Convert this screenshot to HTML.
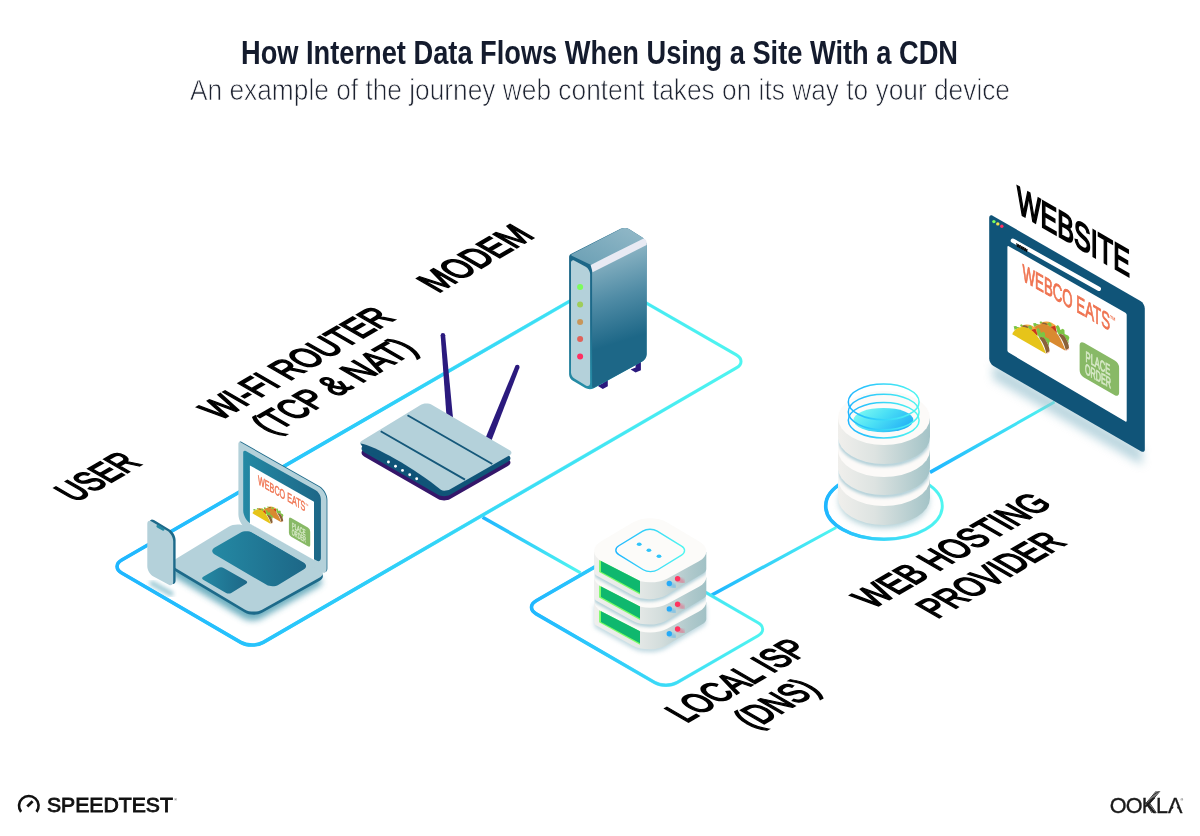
<!DOCTYPE html>
<html lang="en">
<head>
<meta charset="utf-8">
<title>How Internet Data Flows When Using a Site With a CDN</title>
<style>
html,body{margin:0;padding:0;background:#fff;}
body{width:1200px;height:836px;overflow:hidden;font-family:"Liberation Sans",sans-serif;}
svg{display:block;}
text{font-family:"Liberation Sans",sans-serif;}
</style>
</head>
<body>
<svg width="1200" height="836" viewBox="0 0 1200 836">
<g opacity="0.999">
<defs>
<linearGradient id="gMain" gradientUnits="userSpaceOnUse" x1="110" y1="0" x2="750" y2="0"><stop offset="0" stop-color="#1fb6ff"/><stop offset="0.45" stop-color="#2fd0f8"/><stop offset="1" stop-color="#50f6f0"/></linearGradient>
<linearGradient id="gBranch" gradientUnits="userSpaceOnUse" x1="482" y1="517" x2="581" y2="573"><stop offset="0" stop-color="#1fb6ff"/><stop offset="1" stop-color="#50f6f0"/></linearGradient>
<linearGradient id="gIsp" gradientUnits="userSpaceOnUse" x1="525" y1="0" x2="770" y2="0"><stop offset="0" stop-color="#1fb6ff"/><stop offset="1" stop-color="#50f6f0"/></linearGradient>
<linearGradient id="gL2" gradientUnits="userSpaceOnUse" x1="712" y1="595" x2="836" y2="527"><stop offset="0" stop-color="#1fb6ff"/><stop offset="1" stop-color="#50f6f0"/></linearGradient>
<linearGradient id="gRing" gradientUnits="userSpaceOnUse" x1="825" y1="0" x2="943" y2="0"><stop offset="0" stop-color="#1fb6ff"/><stop offset="1" stop-color="#50f6f0"/></linearGradient>
<linearGradient id="gL3" gradientUnits="userSpaceOnUse" x1="930" y1="472" x2="1055" y2="402"><stop offset="0" stop-color="#1fb6ff"/><stop offset="1" stop-color="#50f6f0"/></linearGradient>
<linearGradient id="gTeal" x1="0" y1="0" x2="1" y2="0"><stop offset="0" stop-color="#2489a4"/><stop offset="1" stop-color="#1d6787"/></linearGradient>
<linearGradient id="gModSide" gradientUnits="userSpaceOnUse" x1="619" y1="252" x2="645" y2="334"><stop offset="0" stop-color="#8ab3c3"/><stop offset="0.5" stop-color="#4f8ba5"/><stop offset="1" stop-color="#1d6787"/></linearGradient>
<linearGradient id="gModTop" x1="0" y1="1" x2="1" y2="0"><stop offset="0" stop-color="#6a9fb4"/><stop offset="1" stop-color="#93b9c8"/></linearGradient>
<linearGradient id="gModFront" x1="0" y1="0" x2="0" y2="1"><stop offset="0" stop-color="#1b6586"/><stop offset="0.6" stop-color="#1d6a8a"/><stop offset="1" stop-color="#268fa8"/></linearGradient>
<linearGradient id="gSrv" gradientUnits="userSpaceOnUse" x1="594" y1="0" x2="706" y2="0"><stop offset="0" stop-color="#f0efed"/><stop offset="0.4" stop-color="#e4e8e6"/><stop offset="0.6" stop-color="#d3dddc"/><stop offset="0.85" stop-color="#b0c9cc"/><stop offset="1" stop-color="#a1c1c5"/></linearGradient>
<linearGradient id="gCyl" gradientUnits="userSpaceOnUse" x1="838" y1="0" x2="930" y2="0"><stop offset="0" stop-color="#f0efec"/><stop offset="0.4" stop-color="#dde3e1"/><stop offset="1" stop-color="#a3c3c7"/></linearGradient>
<linearGradient id="gPool" x1="0" y1="0.2" x2="1" y2="0.7"><stop offset="0" stop-color="#7ffaf2"/><stop offset="0.45" stop-color="#4adff5"/><stop offset="1" stop-color="#22aef6"/></linearGradient>
<linearGradient id="gRingS" x1="0" y1="0" x2="1" y2="0"><stop offset="0" stop-color="#1fb6ff"/><stop offset="1" stop-color="#50f6f0"/></linearGradient>
<linearGradient id="gFade" gradientUnits="userSpaceOnUse" x1="110" y1="0" x2="750" y2="0"><stop offset="0" stop-color="#fff"/><stop offset="0.4" stop-color="#fff"/><stop offset="1" stop-color="#000"/></linearGradient>
<mask id="mFade" maskUnits="userSpaceOnUse" x="0" y="0" width="1200" height="836"><rect x="0" y="0" width="1200" height="836" fill="url(#gFade)"/></mask>
<linearGradient id="gFadeI" gradientUnits="userSpaceOnUse" x1="525" y1="0" x2="770" y2="0"><stop offset="0" stop-color="#fff"/><stop offset="0.3" stop-color="#fff"/><stop offset="1" stop-color="#000"/></linearGradient>
<mask id="mFadeI" maskUnits="userSpaceOnUse" x="0" y="0" width="1200" height="836"><rect x="0" y="0" width="1200" height="836" fill="url(#gFadeI)"/></mask>
<linearGradient id="gFadeR" gradientUnits="userSpaceOnUse" x1="825" y1="0" x2="943" y2="0"><stop offset="0" stop-color="#fff"/><stop offset="0.3" stop-color="#fff"/><stop offset="1" stop-color="#000"/></linearGradient>
<mask id="mFadeR" maskUnits="userSpaceOnUse" x="0" y="0" width="1200" height="836"><rect x="0" y="0" width="1200" height="836" fill="url(#gFadeR)"/></mask>
<clipPath id="cSrv"><rect x="594.4" y="500" width="111.7" height="160"/></clipPath>
<clipPath id="cCyl"><rect x="838.3" y="380" width="91.4" height="150"/></clipPath>
<filter id="b2" x="-30%" y="-30%" width="160%" height="160%"><feGaussianBlur stdDeviation="2"/></filter>
<filter id="b3" x="-30%" y="-30%" width="160%" height="160%"><feGaussianBlur stdDeviation="3.2"/></filter>
<filter id="b5" x="-30%" y="-30%" width="160%" height="160%"><feGaussianBlur stdDeviation="5"/></filter>
<filter id="b15" x="-30%" y="-30%" width="160%" height="160%"><feGaussianBlur stdDeviation="1.6"/></filter>
<filter id="b1" x="-30%" y="-30%" width="160%" height="160%"><feGaussianBlur stdDeviation="1.2"/></filter>
</defs>
<rect width="1200" height="836" fill="#ffffff"/>
<text x="241" y="64" font-size="32.5" font-weight="bold" fill="#141b2d" textLength="717" lengthAdjust="spacingAndGlyphs">How Internet Data Flows When Using a Site With a CDN</text>
<text x="190" y="99.9" font-size="29.1" fill="#1d2230" stroke="#fff" stroke-width="0.75" textLength="820" lengthAdjust="spacingAndGlyphs">An example of the journey web content takes on its way to your device</text>
<path d="M481.71 518.87L579.86 574.2L581.34 571.6L483.49 515.73Z" fill="url(#gBranch)"/>
<path d="M712.66 596.58L836.87 528.73L835.53 526.27L710.94 593.42Z" fill="url(#gL2)"/>
<path d="M930.89 473.97L1055.19 403.22L1053.81 400.78L929.11 470.83Z" fill="url(#gL3)"/>
<path d="M121.73 573.04C115.53 569.43 115.54 563.59 121.76 560L595.04 286.5C601.26 282.91 611.34 282.91 617.56 286.49L736.34 354.91C742.56 358.49 742.57 364.32 736.36 367.92L263.24 642.38C257.03 645.98 246.97 645.97 240.77 642.36Z" fill="none" stroke="url(#gMain)" stroke-width="3"/>
<path d="M121.73 573.04C115.53 569.43 115.54 563.59 121.76 560L595.04 286.5C601.26 282.91 611.34 282.91 617.56 286.49L736.34 354.91C742.56 358.49 742.57 364.32 736.36 367.92L263.24 642.38C257.03 645.98 246.97 645.97 240.77 642.36Z" fill="none" stroke="url(#gMain)" stroke-width="3.6" mask="url(#mFade)"/>
<path d="M536.15 613.82C529.94 610.22 529.94 604.39 536.16 600.8L617.04 554.1C623.26 550.51 633.34 550.52 639.55 554.12L758.05 622.78C764.26 626.38 764.26 632.21 758.04 635.8L677.16 682.5C670.94 686.09 660.86 686.08 654.65 682.48Z" fill="none" stroke="url(#gIsp)" stroke-width="2.9"/>
<path d="M536.15 613.82C529.94 610.22 529.94 604.39 536.16 600.8L617.04 554.1C623.26 550.51 633.34 550.52 639.55 554.12L758.05 622.78C764.26 626.38 764.26 632.21 758.04 635.8L677.16 682.5C670.94 686.09 660.86 686.08 654.65 682.48Z" fill="none" stroke="url(#gIsp)" stroke-width="3.6" mask="url(#mFadeI)"/>
<ellipse cx="884" cy="506" rx="58.3" ry="33.3" fill="none" stroke="url(#gRing)" stroke-width="2.9"/>
<ellipse cx="884" cy="506" rx="58.3" ry="33.3" fill="none" stroke="url(#gRing)" stroke-width="3.6" mask="url(#mFadeR)"/>
<path d="M175.59 577.82C170.85 574.99 170.82 570.37 175.54 567.49L227.66 535.71C232.38 532.83 240.09 532.71 244.9 535.43L318.3 577.07C323.11 579.79 323.09 584.17 318.26 586.86L261.04 618.64C256.21 621.33 248.45 621.21 243.71 618.38Z" fill="#3f95ab" opacity="0.75" filter="url(#b3)"/>
<path d="M176.59 572.02C171.85 569.19 171.82 564.57 176.54 561.69L228.66 529.91C233.38 527.03 241.09 526.91 245.9 529.63L319.3 571.27C324.11 573.99 324.09 578.37 319.26 581.06L262.04 612.84C257.21 615.53 249.45 615.41 244.71 612.58Z" fill="#1d6a8a"/>
<path d="M176.59 568.82C171.85 565.99 171.82 561.37 176.54 558.49L228.66 526.71C233.38 523.83 241.09 523.71 245.9 526.43L319.3 568.07C324.11 570.79 324.09 575.17 319.26 577.86L262.04 609.64C257.21 612.33 249.45 612.21 244.71 609.38Z" fill="#b4d1da"/>
<path d="M214.75 554.62C211.41 552.68 211.41 549.53 214.75 547.58L240.35 532.72C243.69 530.77 249.11 530.78 252.45 532.72L303.55 562.48C306.89 564.42 306.92 567.62 303.6 569.61L278.6 584.69C275.28 586.68 269.89 586.72 266.55 584.78Z" fill="url(#gTeal)"/>
<path d="M203.2 579.8C201.76 578.97 201.76 577.63 203.2 576.8L218.4 568C219.84 567.17 222.17 567.16 223.61 567.98L246.09 580.72C247.53 581.54 247.56 582.9 246.14 583.77L231.26 592.93C229.84 593.8 227.54 593.83 226.1 593Z" fill="url(#gTeal)"/>
<path d="M239.2 443C239.2 441.62 240.17 441.05 241.37 441.74L319.58 486.25C323.9 488.71 327.4 494.73 327.4 499.7L327.4 568.5C327.4 571.81 325.07 573.17 322.19 571.52L247.88 528.97C243.09 526.22 239.2 519.52 239.2 514Z" fill="#1d6a8a"/>
<path d="M238.4 443.5C238.4 442.12 239.37 441.55 240.57 442.24L318.78 486.75C323.1 489.21 326.6 495.23 326.6 500.2L326.6 569C326.6 572.31 324.27 573.67 321.39 572.02L247.08 529.47C242.29 526.72 238.4 520.02 238.4 514.5Z" fill="#b4d1da"/>
<path d="M243.2 452.6C243.2 450.94 244.37 450.26 245.81 451.07L315.67 490.36C318.56 491.98 320.9 495.99 320.9 499.3L320.9 558C320.9 560.76 318.95 561.91 316.54 560.56L251.05 523.9C246.72 521.47 243.2 515.47 243.2 510.5Z" fill="url(#gTeal)"/>
<path d="M249.9 465.4L314 501.8L314 560.1L249.9 523.8Z" fill="#ffffff"/>
<g transform="translate(249.9 465.4) scale(0.54)">
<g transform="translate(-2.4 64.6) scale(0.05984)"><g transform="translate(325 -50)"><path d="M255 285C330 215 450 235 545 330L520 400Z" fill="#f6a93e"/><path d="M280 272C320 245 360 255 395 295L350 300Z" fill="#8a6238"/><path d="M145 272L185 268L205 285L250 290L160 335Z" fill="#7cc544"/><path d="M250 250L280 238L300 262L270 280Z" fill="#7cc544"/><path d="M380 275L420 255L450 280L455 320L420 335Z" fill="#7cc544"/><path d="M435 335L510 315L548 440L500 400Z" fill="#c8351f"/><path d="M525 320L560 300L585 335L600 385L640 365L668 385L672 450L735 480L752 515L735 560L738 610L700 540L640 455L570 460L545 410Z" fill="#7cc544"/><path d="M570 462C600 445 640 450 670 490C715 550 745 630 745 690L690 722C670 620 620 520 570 462Z" fill="#8a6238"/><path d="M690 722L745 690L750 700L700 730Z" fill="#f6b3a0"/><path d="M120 405C150 330 220 280 310 285C420 292 530 400 600 530C640 610 670 680 685 732Z" fill="#d98a30"/></g><g><path d="M255 285C330 215 450 235 545 330L520 400Z" fill="#f6a93e"/><path d="M280 272C320 245 360 255 395 295L350 300Z" fill="#8a6238"/><path d="M145 272L185 268L205 285L250 290L160 335Z" fill="#7cc544"/><path d="M250 250L280 238L300 262L270 280Z" fill="#7cc544"/><path d="M380 275L420 255L450 280L455 320L420 335Z" fill="#7cc544"/><path d="M435 335L510 315L548 440L500 400Z" fill="#c8351f"/><path d="M525 320L560 300L585 335L600 385L640 365L668 385L672 450L735 480L752 515L735 560L738 610L700 540L640 455L570 460L545 410Z" fill="#7cc544"/><path d="M570 462C600 445 640 450 670 490C715 550 745 630 745 690L690 722C670 620 620 520 570 462Z" fill="#8a6238"/><path d="M690 722L745 690L750 700L700 730Z" fill="#f6b3a0"/><path d="M120 405C150 330 220 280 310 285C420 292 530 400 600 530C640 610 670 680 685 732Z" fill="#e6c41a"/></g></g>
<g transform="matrix(0.866 0.5 0 1 0 0)">
<text x="17.5" y="26.3" font-size="24" fill="#ef7350" stroke="#ef7350" stroke-width="0.9" textLength="101" lengthAdjust="spacingAndGlyphs">WEBCO EATS</text>
<text x="118.3" y="17.4" font-size="10.5" font-weight="bold" fill="#ef7350" textLength="7" lengthAdjust="spacingAndGlyphs">™</text>
<rect x="83.4" y="53.2" width="45.6" height="34.6" rx="5" fill="#88b966"/>
<text x="90.3" y="70.6" font-size="14.8" fill="#d6e8c6" stroke="#d6e8c6" stroke-width="0.8" textLength="28.6" lengthAdjust="spacingAndGlyphs">PLACE</text>
<text x="89.6" y="83.3" font-size="14.8" fill="#d6e8c6" stroke="#d6e8c6" stroke-width="0.8" textLength="30.1" lengthAdjust="spacingAndGlyphs">ORDER</text>
</g></g>
<path d="M152 583.2L171 593.8" stroke="#5aa5b8" stroke-width="5" stroke-linecap="round" opacity="0.6" filter="url(#b2)" fill="none"/>
<path d="M149.7 522.5C149.7 519.74 151.62 518.65 153.98 520.08L169.6 529.49C172.92 531.48 175.6 536.23 175.6 540.1L175.6 580.7C175.6 583.46 173.62 584.65 171.19 583.35L155.88 575.19C152.47 573.37 149.7 568.77 149.7 564.9Z" fill="#1d6a8a"/>
<path d="M147.3 523.8C147.3 521.04 149.22 519.95 151.58 521.38L167.2 530.79C170.52 532.78 173.2 537.53 173.2 541.4L173.2 582C173.2 584.76 171.22 585.95 168.79 584.65L153.48 576.49C150.07 574.67 147.3 570.07 147.3 566.2Z" fill="#b4d1da"/>
<path d="M157.8 526.2L163.2 529.4" stroke="#2488a2" stroke-width="2.8" stroke-linecap="round" fill="none"/>
<path d="M440.66 335.39L446.61 418.27L452.99 417.73L445.14 335.01Z" fill="#2b1a7e"/>
<circle cx="442.9" cy="335.2" r="2.25" fill="#2b1a7e"/>
<path d="M515.21 366.17L485.63 437.82L491.57 440.18L519.39 367.83Z" fill="#2b1a7e"/>
<circle cx="517.3" cy="367" r="2.25" fill="#2b1a7e"/>
<path d="M364.07 456.39C360.72 454.46 360.67 451.26 363.97 449.24L420.13 414.86C423.43 412.84 428.81 412.78 432.15 414.73L507.95 458.97C511.29 460.92 511.28 464.06 507.92 465.98L450.18 499.02C446.82 500.94 441.38 500.94 438.03 499.01Z" fill="#35166a"/>
<path d="M364.07 452.19C360.72 450.26 360.67 447.06 363.97 445.04L420.13 410.66C423.43 408.64 428.81 408.58 432.15 410.53L507.95 454.77C511.29 456.72 511.28 459.86 507.92 461.78L450.18 494.82C446.82 496.74 441.38 496.74 438.03 494.81Z" fill="#105478"/>
<path d="M361.47 445.2C359.55 444.09 359.53 442.26 361.41 441.11L420.13 405.16C423.43 403.14 428.81 403.08 432.15 405.03L509.68 450.28C512.07 451.67 512.06 453.91 509.66 455.28L450.18 489.32C446.82 491.24 441.38 491.24 438.03 489.31Z" fill="#b4d1da"/>
<path d="M360.6 443.4C373 445 415 468 441.5 490.3L445 495L363 448Z" fill="#105478"/>
<path d="M407.5 415.2L492.3 464M380.7 431.2L465 479.6" stroke="#15587a" stroke-width="1.9" fill="none"/>
<circle cx="388.4" cy="462" r="1.45" fill="#ffffff"/>
<circle cx="395.5" cy="466.3" r="1.45" fill="#ffffff"/>
<circle cx="402.5" cy="470.4" r="1.45" fill="#ffffff"/>
<circle cx="409.7" cy="474.7" r="1.45" fill="#ffffff"/>
<circle cx="416.7" cy="478.8" r="1.45" fill="#ffffff"/>
<path d="M602.6 378.6L607.8 376.5L607.8 386.2L602.8 388.9L597.6 385.8L602.6 383.3Z" fill="#2b1a7e"/>
<path d="M635.6 362.6L640.9 360.2L640.9 370.2L635.6 372.6L630.6 369.6L635.6 367.4Z" fill="#2b1a7e"/>
<path d="M569.1 256.9C569.1 255.8 569.9 254.5 570.89 254L620.64 228.86C623.1 227.61 626.99 227.8 629.33 229.27L642.37 237.53C644.71 239 646.6 242.44 646.6 245.2L646.6 354.2C646.6 356.96 644.64 360.28 642.22 361.61L593.88 388.19C591.46 389.52 587.58 389.45 585.21 388.03L572.53 380.45C570.64 379.32 569.1 376.61 569.1 374.4Z" fill="url(#gModFront)"/>
<path d="M592.1 265.5L642.96 242.26C644.97 241.34 646.6 242.39 646.6 244.6L646.6 354.2C646.6 356.96 644.63 360.26 642.2 361.57L593.86 387.65C592.89 388.17 592.1 387.7 592.1 386.6Z" fill="url(#gModSide)"/>
<path d="M571.75 255.65C571.01 255.29 571 254.69 571.73 254.31L620.66 228.9C623.11 227.63 626.99 227.8 629.33 229.27L642.37 237.53C644.71 239 644.55 241.11 642.03 242.23L591.91 264.49C591.41 264.72 590.6 264.71 590.1 264.47Z" fill="url(#gModTop)"/>
<path d="M590.6 264.9L643.6 238.4Q646.6 239.6 646.6 242.4L646.6 245L592.6 272.3Z" fill="#e8eaf3"/>
<path d="M571 262.8C571 260.59 572.58 259.64 574.53 260.68L585.69 266.64C588.13 267.95 590.1 271.24 590.1 274L590.1 383C590.1 385.76 588.18 386.85 585.82 385.42L574.43 378.56C572.53 377.42 571 374.71 571 372.5Z" fill="#b4d1da"/>
<circle cx="580.1" cy="287" r="3" fill="#7cfc5c"/>
<circle cx="580.1" cy="304.5" r="3" fill="#9fcd5a"/>
<circle cx="580.1" cy="321.9" r="3" fill="#c8965a"/>
<circle cx="580.1" cy="339.1" r="3" fill="#e0625a"/>
<circle cx="580.1" cy="356.4" r="3" fill="#ff2f62"/>
<path d="M594.2 605.2L594.2 624.9C594.2 626.28 595.18 627.94 596.39 628.61L632.49 648.54C642.16 653.87 657.69 653.61 667.17 647.95L704.15 625.88C705.34 625.17 706.3 623.48 706.3 622.1L706.3 605.2Z" fill="#86b6c6" opacity="0.5" filter="url(#b2)"/>
<path d="M594.2 602.2L594.2 621.9C594.2 623.28 595.18 624.94 596.39 625.61L632.49 645.54C642.16 650.87 657.69 650.61 667.17 644.95L704.15 622.88C705.34 622.17 706.3 620.48 706.3 619.1L706.3 602.2Z" fill="url(#gSrv)"/>
<path d="M601.5 611.38C591.84 606.03 591.7 597.13 601.2 591.49L632.8 572.71C642.3 567.07 657.7 567.06 667.21 572.69L699.29 591.71C708.8 597.34 708.64 606.19 698.95 611.48L667.55 628.62C657.86 633.91 642.16 633.87 632.5 628.52Z" fill="#fcfbf9"/>
<path d="M599.1 610.3L640 631.2L640 644.7L599.1 622.2Z" fill="#7cfc66"/>
<path d="M601 611.3L640 631.2L640 643.3L601 621.9Z" fill="#0fb86e"/>
<path d="M669.3 633.7L674.3 636.7" stroke="#29a8f6" stroke-width="4.6" stroke-linecap="round" opacity="0.38" filter="url(#b1)"/>
<path d="M677.6 629L682.6 632" stroke="#ff3860" stroke-width="4.6" stroke-linecap="round" opacity="0.38" filter="url(#b1)"/>
<circle cx="669.3" cy="633.7" r="2.7" fill="#25aaf8"/>
<circle cx="677.6" cy="629" r="2.7" fill="#ff3560"/>
<g clip-path="url(#cSrv)"><path d="M594.2 580L594.2 599.7C594.2 601.08 595.18 602.74 596.39 603.41L632.49 623.34C642.16 628.67 657.69 628.41 667.17 622.75L704.15 600.68C705.34 599.97 706.3 598.28 706.3 596.9L706.3 580Z" fill="#86b6c6" opacity="0.6" filter="url(#b15)"/></g>
<path d="M594.2 577.4L594.2 597.1C594.2 598.48 595.18 600.14 596.39 600.81L632.49 620.74C642.16 626.07 657.69 625.81 667.17 620.15L704.15 598.08C705.34 597.37 706.3 595.68 706.3 594.3L706.3 577.4Z" fill="url(#gSrv)"/>
<path d="M601.5 586.58C591.84 581.23 591.7 572.33 601.2 566.69L632.8 547.91C642.3 542.27 657.7 542.26 667.21 547.89L699.29 566.91C708.8 572.54 708.64 581.39 698.95 586.68L667.55 603.82C657.86 609.11 642.16 609.07 632.5 603.72Z" fill="#fcfbf9"/>
<path d="M599.1 585.5L640 606.4L640 619.9L599.1 597.4Z" fill="#7cfc66"/>
<path d="M601 586.5L640 606.4L640 618.5L601 597.1Z" fill="#0fb86e"/>
<path d="M669.3 608.9L674.3 611.9" stroke="#29a8f6" stroke-width="4.6" stroke-linecap="round" opacity="0.38" filter="url(#b1)"/>
<path d="M677.6 604.2L682.6 607.2" stroke="#ff3860" stroke-width="4.6" stroke-linecap="round" opacity="0.38" filter="url(#b1)"/>
<circle cx="669.3" cy="608.9" r="2.7" fill="#25aaf8"/>
<circle cx="677.6" cy="604.2" r="2.7" fill="#ff3560"/>
<g clip-path="url(#cSrv)"><path d="M594.2 554.6L594.2 574.3C594.2 575.68 595.18 577.34 596.39 578.01L632.49 597.94C642.16 603.27 657.69 603.01 667.17 597.35L704.15 575.28C705.34 574.57 706.3 572.88 706.3 571.5L706.3 554.6Z" fill="#86b6c6" opacity="0.6" filter="url(#b15)"/></g>
<path d="M594.2 552L594.2 571.7C594.2 573.08 595.18 574.74 596.39 575.41L632.49 595.34C642.16 600.67 657.69 600.41 667.17 594.75L704.15 572.68C705.34 571.97 706.3 570.28 706.3 568.9L706.3 552Z" fill="url(#gSrv)"/>
<path d="M601.5 561.18C591.84 555.83 591.7 546.93 601.2 541.29L632.8 522.51C642.3 516.87 657.7 516.86 667.21 522.49L699.29 541.51C708.8 547.14 708.64 555.99 698.95 561.28L667.55 578.42C657.86 583.71 642.16 583.67 632.5 578.32Z" fill="#fcfbf9"/>
<path d="M599.1 560.1L640 581L640 594.5L599.1 572Z" fill="#7cfc66"/>
<path d="M601 561.1L640 581L640 593.1L601 571.7Z" fill="#0fb86e"/>
<path d="M669.3 583.5L674.3 586.5" stroke="#29a8f6" stroke-width="4.6" stroke-linecap="round" opacity="0.38" filter="url(#b1)"/>
<path d="M677.6 578.8L682.6 581.8" stroke="#ff3860" stroke-width="4.6" stroke-linecap="round" opacity="0.38" filter="url(#b1)"/>
<circle cx="669.3" cy="583.5" r="2.7" fill="#25aaf8"/>
<circle cx="677.6" cy="578.8" r="2.7" fill="#ff3560"/>
<path d="M618.83 554.66C614.84 552.2 614.84 548.21 618.84 545.75L642.76 531.05C646.76 528.59 653.24 528.6 657.23 531.07L681.57 546.13C685.56 548.6 685.56 552.6 681.56 555.06L657.74 569.74C653.74 572.2 647.26 572.2 643.27 569.74Z" fill="none" stroke="url(#gRingS)" stroke-width="1.4"/>
<ellipse cx="639.2" cy="544.3" rx="2.4" ry="1.7" fill="#2fc4fa"/>
<ellipse cx="648.9" cy="550.3" rx="2.4" ry="1.7" fill="#2fc4fa"/>
<ellipse cx="659" cy="556.3" rx="2.4" ry="1.7" fill="#2fc4fa"/>
<ellipse cx="884" cy="501" rx="45" ry="27" fill="#8fbcc6" opacity="0.7" filter="url(#b3)"/>
<path d="M838 479L838 498A46 27 0 0 0 930 498L930 479Z" fill="url(#gCyl)"/>
<ellipse cx="884" cy="479" rx="46" ry="27" fill="#fcfaf8"/>
<g clip-path="url(#cCyl)"><path d="M840 469.5A44 26 0 0 0 928 469.5" fill="none" stroke="#7fb2c2" stroke-width="4.5" opacity="0.6" filter="url(#b15)"/></g>
<path d="M838 450L838 468A46 27 0 0 0 930 468L930 450Z" fill="url(#gCyl)"/>
<ellipse cx="884" cy="450" rx="46" ry="27" fill="#fcfaf8"/>
<g clip-path="url(#cCyl)"><path d="M840 438.5A44 26 0 0 0 928 438.5" fill="none" stroke="#7fb2c2" stroke-width="4.5" opacity="0.6" filter="url(#b15)"/></g>
<path d="M838 418L838 437A46 27 0 0 0 930 437L930 418Z" fill="url(#gCyl)"/>
<ellipse cx="884" cy="418" rx="46" ry="27" fill="#fcfaf8"/>
<ellipse cx="883.4" cy="420.1" rx="30" ry="12.2" fill="url(#gPool)"/>
<ellipse cx="883.7" cy="401.9" rx="35.4" ry="17.8" fill="none" stroke="url(#gRingS)" stroke-width="1.5"/>
<ellipse cx="883.7" cy="412" rx="35.4" ry="17.8" fill="none" stroke="url(#gRingS)" stroke-width="1.5"/>
<ellipse cx="883.7" cy="420.2" rx="35.4" ry="17.8" fill="none" stroke="url(#gRingS)" stroke-width="1.5"/>
<path d="M993 363L1142 449L1142 465L993 379Z" fill="#8fbccb" opacity="0.62" filter="url(#b5)"/>
<path d="M989.2 217.7C989.2 215.49 990.75 214.6 992.66 215.7L1140.47 301C1142.86 302.38 1144.8 305.74 1144.8 308.5L1144.8 449.4C1144.8 451.61 1143.25 452.5 1141.34 451.4L993.53 366.1C991.14 364.72 989.2 361.36 989.2 358.6Z" fill="#105478"/>
<path d="M1007.4 246.9C1007.4 246.07 1007.98 245.73 1008.7 246.14L1125.4 312.76C1126.12 313.17 1126.7 314.17 1126.7 315L1126.7 420.8C1126.7 421.63 1126.12 421.96 1125.41 421.54L1008.69 352.56C1007.98 352.14 1007.4 351.13 1007.4 350.3Z" fill="#ffffff"/>
<path d="M1012.8 240.6L1098.9 288.9" stroke="#ffffff" stroke-width="4.2" stroke-linecap="round" fill="none"/>
<circle cx="993.9" cy="221.6" r="1.7" fill="#7cfc5c"/>
<circle cx="997.8" cy="223.9" r="1.7" fill="#f5e14a"/>
<circle cx="1001.8" cy="226.2" r="1.7" fill="#ff2f62"/>
<text transform="matrix(0.866 0.5 0 1 1016.6 246.2)" font-size="5.6" font-weight="bold" fill="#000" stroke="#000" stroke-width="0.5" textLength="12.5" lengthAdjust="spacingAndGlyphs">www</text>
<g transform="translate(1007.4 245.4) scale(1)">
<g transform="translate(-2.4 64.6) scale(0.05984)"><g transform="translate(325 -50)"><path d="M255 285C330 215 450 235 545 330L520 400Z" fill="#f6a93e"/><path d="M280 272C320 245 360 255 395 295L350 300Z" fill="#8a6238"/><path d="M145 272L185 268L205 285L250 290L160 335Z" fill="#7cc544"/><path d="M250 250L280 238L300 262L270 280Z" fill="#7cc544"/><path d="M380 275L420 255L450 280L455 320L420 335Z" fill="#7cc544"/><path d="M435 335L510 315L548 440L500 400Z" fill="#c8351f"/><path d="M525 320L560 300L585 335L600 385L640 365L668 385L672 450L735 480L752 515L735 560L738 610L700 540L640 455L570 460L545 410Z" fill="#7cc544"/><path d="M570 462C600 445 640 450 670 490C715 550 745 630 745 690L690 722C670 620 620 520 570 462Z" fill="#8a6238"/><path d="M690 722L745 690L750 700L700 730Z" fill="#f6b3a0"/><path d="M120 405C150 330 220 280 310 285C420 292 530 400 600 530C640 610 670 680 685 732Z" fill="#d98a30"/></g><g><path d="M255 285C330 215 450 235 545 330L520 400Z" fill="#f6a93e"/><path d="M280 272C320 245 360 255 395 295L350 300Z" fill="#8a6238"/><path d="M145 272L185 268L205 285L250 290L160 335Z" fill="#7cc544"/><path d="M250 250L280 238L300 262L270 280Z" fill="#7cc544"/><path d="M380 275L420 255L450 280L455 320L420 335Z" fill="#7cc544"/><path d="M435 335L510 315L548 440L500 400Z" fill="#c8351f"/><path d="M525 320L560 300L585 335L600 385L640 365L668 385L672 450L735 480L752 515L735 560L738 610L700 540L640 455L570 460L545 410Z" fill="#7cc544"/><path d="M570 462C600 445 640 450 670 490C715 550 745 630 745 690L690 722C670 620 620 520 570 462Z" fill="#8a6238"/><path d="M690 722L745 690L750 700L700 730Z" fill="#f6b3a0"/><path d="M120 405C150 330 220 280 310 285C420 292 530 400 600 530C640 610 670 680 685 732Z" fill="#e6c41a"/></g></g>
<g transform="matrix(0.866 0.5 0 1 0 0)">
<text x="17.5" y="26.3" font-size="24" fill="#ef7350" stroke="#ef7350" stroke-width="0.9" textLength="101" lengthAdjust="spacingAndGlyphs">WEBCO EATS</text>
<text x="118.3" y="17.4" font-size="10.5" font-weight="bold" fill="#ef7350" textLength="7" lengthAdjust="spacingAndGlyphs">™</text>
<rect x="83.4" y="53.2" width="45.6" height="34.6" rx="5" fill="#88b966"/>
<text x="90.3" y="70.6" font-size="14.8" fill="#d6e8c6" stroke="#d6e8c6" stroke-width="0.8" textLength="28.6" lengthAdjust="spacingAndGlyphs">PLACE</text>
<text x="89.6" y="83.3" font-size="14.8" fill="#d6e8c6" stroke="#d6e8c6" stroke-width="0.8" textLength="30.1" lengthAdjust="spacingAndGlyphs">ORDER</text>
</g></g>
<text transform="matrix(0.866 -0.5 0.866 0.5 75.6 502.8)" font-size="39.3" fill="#000" stroke="#000" stroke-width="1.95" stroke-linejoin="miter" textLength="77.5" lengthAdjust="spacingAndGlyphs">USER</text>
<text transform="matrix(0.866 -0.5 0.866 0.5 220 420.8)" font-size="39.3" fill="#000" stroke="#000" stroke-width="1.95" stroke-linejoin="miter" textLength="203.7" lengthAdjust="spacingAndGlyphs">WI-FI ROUTER</text>
<text transform="matrix(0.866 -0.5 0.866 0.5 271.5 435)" font-size="39.3" fill="#000" stroke="#000" stroke-width="1.95" stroke-linejoin="miter" textLength="170" lengthAdjust="spacingAndGlyphs">(TCP &amp; NAT)</text>
<text transform="matrix(0.866 -0.5 0.866 0.5 438 293.3)" font-size="39.3" fill="#000" stroke="#000" stroke-width="1.95" stroke-linejoin="miter" textLength="113" lengthAdjust="spacingAndGlyphs">MODEM</text>
<text transform="matrix(0.866 -0.5 0.866 0.5 686.2 723.2)" font-size="39.3" fill="#000" stroke="#000" stroke-width="1.95" stroke-linejoin="miter" textLength="145" lengthAdjust="spacingAndGlyphs">LOCAL ISP</text>
<text transform="matrix(0.866 -0.5 0.866 0.5 753.8 729.6)" font-size="39.3" fill="#000" stroke="#000" stroke-width="1.95" stroke-linejoin="miter" textLength="78" lengthAdjust="spacingAndGlyphs">(DNS)</text>
<text transform="matrix(0.866 -0.5 0.866 0.5 873 609)" font-size="39.3" fill="#000" stroke="#000" stroke-width="1.95" stroke-linejoin="miter" textLength="208.5" lengthAdjust="spacingAndGlyphs">WEB HOSTING</text>
<text transform="matrix(0.866 -0.5 0.866 0.5 937 619)" font-size="39.3" fill="#000" stroke="#000" stroke-width="1.95" stroke-linejoin="miter" textLength="150.7" lengthAdjust="spacingAndGlyphs">PROVIDER</text>
<text transform="matrix(0.866 0.5 0 1 1016.9 212.2)" font-size="38.5" fill="#000" stroke="#000" stroke-width="1.9" stroke-linejoin="miter" textLength="130.5" lengthAdjust="spacingAndGlyphs">WEBSITE</text>
<path d="M21.1 811.9A9.8 9.8 0 1 1 36.5 811.9" fill="none" stroke="#111" stroke-width="2.6"/>
<path d="M27.3 806.4L32.6 801.3" fill="none" stroke="#111" stroke-width="2.8"/>
<text x="46.9" y="811.9" font-size="20.6" fill="#111" stroke="#111" stroke-width="0.85" stroke-linejoin="miter" textLength="126" lengthAdjust="spacingAndGlyphs">SPEEDTEST</text>
<text x="174.3" y="800.5" font-size="3.6" fill="#111">®</text>
<text x="1109.7 1125.8 1141.7 1156 1167.9" y="812.9" font-size="21.6" fill="#1a1a1a" stroke="#1a1a1a" stroke-width="0.35">OOKLA</text>
<path d="M1175.25 802.2L1171.1 813.4L1179.4 813.4Z" fill="#fff"/>
<path d="M1145.6 803.8L1156.2 791.2M1145.6 802.4L1152 812.9M1146.8 803.8L1157.45 791.2M1146.8 802.4L1153.45 812.9M1148 803.8L1158.7 791.2M1148 802.4L1154.9 812.9M1149.2 803.8L1159.95 791.2M1149.2 802.4L1156.35 812.9" stroke="#1a1a1a" stroke-width="0.9" fill="none"/>
<text x="1180.4" y="800.5" font-size="3.6" fill="#111">®</text>
</g>
</svg>
</body>
</html>
